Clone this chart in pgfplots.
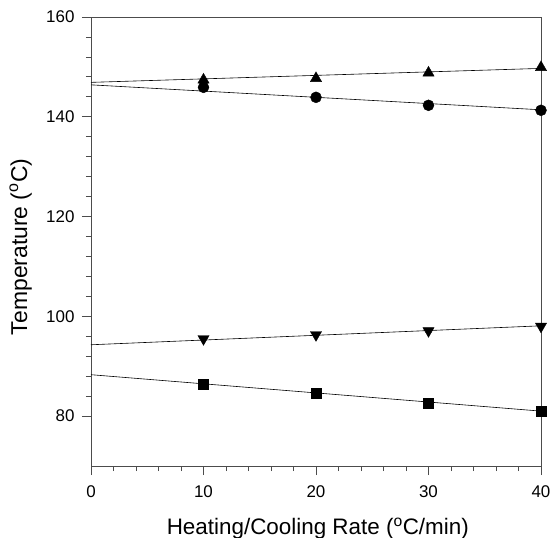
\documentclass[border=0pt]{standalone}
\usepackage{pgfplots}
\pgfplotsset{compat=1.18}
\usepackage{fontspec}
\setmainfont{Liberation Sans}
\begin{document}
\begin{tikzpicture}
\path[use as bounding box] (-91bp,-72bp) rectangle (460bp,466bp);
\begin{axis}[
  at={(0,0)}, anchor=south west,
  scale only axis, width=450bp, height=449bp,
  xmin=0, xmax=40, ymin=70, ymax=160,
  xtick={0,10,20,30,40}, ytick={80,100,120,140,160},
  minor x tick num=4, minor y tick num=4,
  tick align=outside, xtick pos=bottom, ytick pos=left,
  major tick length=9bp, minor tick length=5bp,
  axis line style={black!70, line width=0.8bp},
  every tick/.style={black!70, line width=0.8bp},
  /pgf/number format/assume math mode=true,
  xticklabel={\pgfmathprintnumber{\tick}},
  yticklabel={\pgfmathprintnumber{\tick}},
  ticklabel style={font=\fontsize{17}{19}\selectfont},
  xticklabel style={yshift=-7bp},
  yticklabel style={xshift=-4bp},
  xlabel={Heating/Cooling Rate (\textsuperscript{o}C/min)},
  ylabel={Temperature (\textsuperscript{o}C)},
  xlabel style={font=\fontsize{22.5}{25}\selectfont, at={(axis description cs:0.504,0)}, anchor=base, yshift=-68bp},
  ylabel style={font=\fontsize{23}{26}\selectfont, at={(axis description cs:-0.1422,0.488)}, anchor=base},
  clip=false,
]
% fit lines
\addplot[black, line width=0.6bp, no marks] coordinates {(0,146.9) (40,149.7)};
\addplot[black, line width=0.6bp, no marks] coordinates {(0,146.4) (40,141.4)};
\addplot[black, line width=0.6bp, no marks] coordinates {(0,94.3) (40,98.1)};
\addplot[black, line width=0.6bp, no marks] coordinates {(0,88.3) (40,81.0)};
% data
\addplot[only marks, mark=triangle*, mark size=6.5bp, black] coordinates {(10,147.4) (20,147.7) (30,148.8) (40,149.9)};
\addplot[only marks, mark=*, mark size=5.5bp, black] coordinates {(10,145.9) (20,143.9) (30,142.3) (40,141.3)};
\addplot[only marks, mark=triangle*, mark size=6.5bp, black, mark options={rotate=180}] coordinates {(10,95.5) (20,96.3) (30,97.1) (40,98.0)};
\addplot[only marks, mark=square*, mark size=5bp, black] coordinates {(10,86.3) (20,84.6) (30,82.6) (40,80.9)};
\end{axis}
\end{tikzpicture}
\end{document}
